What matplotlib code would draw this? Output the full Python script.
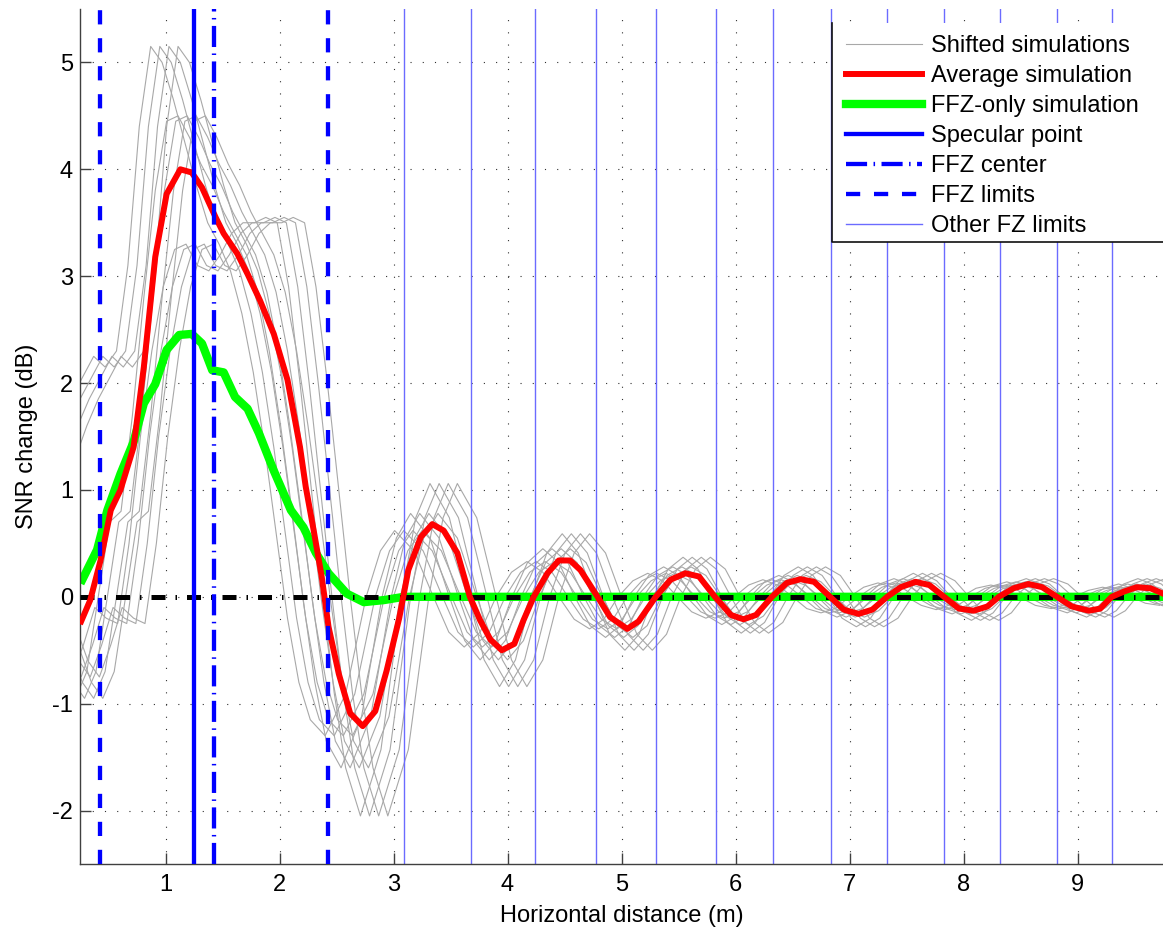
import matplotlib
matplotlib.use('Agg')
import matplotlib.pyplot as plt
from matplotlib.patches import Rectangle
from matplotlib.lines import Line2D
import numpy as np

plt.rcParams['font.family'] = ['Liberation Sans', 'DejaVu Sans']

# ---------------- data ----------------
red_x = [0.26, 0.34, 0.43, 0.52, 0.605, 0.72, 0.81, 0.91, 1.01, 1.13, 1.23, 1.32, 1.44, 1.51,
         1.63, 1.72, 1.83, 1.95, 2.07, 2.18, 2.23, 2.30, 2.37, 2.43, 2.52, 2.62, 2.73, 2.84,
         2.94, 3.05, 3.13, 3.24, 3.34, 3.44, 3.56, 3.67, 3.76, 3.85, 3.95, 4.06, 4.14, 4.23,
         4.35, 4.45, 4.55, 4.64, 4.79, 4.90, 5.05, 5.15, 5.30, 5.43, 5.56, 5.68, 5.82, 5.96,
         6.07, 6.18, 6.32, 6.45, 6.57, 6.69, 6.83, 6.95, 7.08, 7.20, 7.33, 7.45, 7.58, 7.70,
         7.83, 7.96, 8.09, 8.21, 8.31, 8.44, 8.57, 8.69, 8.82, 8.95, 9.10, 9.20, 9.30, 9.41,
         9.52, 9.64, 9.75]
red_y = [-0.23, -0.03, 0.34, 0.81, 1.0, 1.4, 2.15, 3.18, 3.77, 4.0, 3.97, 3.83, 3.55, 3.40,
         3.21, 3.02, 2.77, 2.46, 2.03, 1.40, 1.03, 0.62, 0.19, -0.28, -0.72, -1.09, -1.21, -1.07,
         -0.69, -0.2, 0.25, 0.56, 0.68, 0.62, 0.41, 0.0, -0.22, -0.40, -0.50, -0.44, -0.22, 0.0,
         0.22, 0.34, 0.34, 0.25, 0.0, -0.19, -0.30, -0.23, 0.0, 0.16, 0.22, 0.19, 0.0, -0.17,
         -0.21, -0.17, 0.0, 0.13, 0.165, 0.14, 0.0, -0.12, -0.16, -0.12, 0.0, 0.09, 0.14, 0.11,
         0.0, -0.11, -0.13, -0.09, 0.0, 0.08, 0.12, 0.09, 0.0, -0.09, -0.13, -0.11, 0.0, 0.05,
         0.09, 0.08, 0.03]

green_x = [0.27, 0.40, 0.49, 0.605, 0.72, 0.81, 0.91, 1.01, 1.12, 1.23, 1.32, 1.41, 1.51, 1.61,
           1.72, 1.82, 1.95, 2.10, 2.21, 2.32, 2.43, 2.59, 2.74, 2.92, 3.09, 9.75]
green_y = [0.16, 0.44, 0.81, 1.15, 1.45, 1.81, 1.99, 2.31, 2.45, 2.46, 2.37, 2.12, 2.10, 1.87,
           1.76, 1.53, 1.18, 0.81, 0.65, 0.41, 0.22, 0.03, -0.05, -0.03, 0.0, 0.0]

zero_line_x = [0.25, 9.75]
zero_line_y = [0.0, 0.0]

specular_x = 1.248
ffz_center_x = 1.427
ffz_limits_x = [0.427, 2.427]
other_fz_x = [3.09, 3.684, 4.24, 4.778, 5.301, 5.825, 6.327, 6.836, 7.333, 7.827,
              8.316, 8.816, 9.304]

# shifted simulations: three families of profiles, each drawn at several shifts
gray_x = [0.0, 0.1, 0.2, 0.3, 0.4, 0.5, 0.6, 0.7, 0.8, 0.9, 1.0, 1.1, 1.2, 1.3, 1.4, 1.5,
          1.6, 1.7, 1.8, 1.9, 2.0, 2.1, 2.2, 2.3, 2.4, 2.5, 2.6,
          2.73, 2.91, 3.09, 3.215, 3.34, 3.51, 3.68, 3.815, 3.95, 4.09, 4.23, 4.365, 4.50,
          4.64, 4.78, 4.915, 5.05, 5.175, 5.30, 5.43, 5.56, 5.69, 5.82, 5.945, 6.07, 6.195,
          6.32, 6.445, 6.57, 6.70, 6.83, 6.955, 7.08, 7.205, 7.33, 7.455, 7.58, 7.705, 7.83,
          7.96, 8.09, 8.20, 8.31, 8.44, 8.57, 8.695, 8.82, 8.96, 9.10, 9.20, 9.30, 9.425,
          9.55, 9.675, 9.80, 9.925, 10.05]
gray_E = [0.4, 0.7, 1.0, 1.3, 1.6, 1.85, 2.05, 2.25, 2.15, 2.3, 3.1, 4.4, 5.15, 5.0, 4.65,
          4.25, 3.85, 3.5, 3.3, 3.05, 2.65, 2.1, 1.4, 0.6, -0.2, -0.8, -1.15,
          -1.3, -0.91, 0, 0.43, 0.62, 0.43, 0, -0.33, -0.47, -0.33, 0, 0.23, 0.33, 0.23, 0,
          -0.21, -0.30, -0.21, 0, 0.15, 0.22, 0.15, 0, -0.14, -0.20, -0.14, 0, 0.11, 0.16,
          0.11, 0, -0.11, -0.15, -0.11, 0, 0.09, 0.13, 0.09, 0, -0.08, -0.12, -0.08, 0, 0.08,
          0.11, 0.08, 0, -0.08, -0.11, -0.08, 0, 0.06, 0.09, 0.06, 0, -0.06, -0.08]
gray_M = [0.0, -0.2, -0.5, -0.8, -0.95, -0.7, 0.0, 0.7, 0.8, 1.7, 2.8, 3.8, 4.45, 4.5, 4.3,
          4.05, 3.85, 3.6, 3.4, 3.2, 2.85, 2.3, 1.6, 0.8, -0.05, -0.8, -1.35,
          -1.6, -1.12, 0, 0.55, 0.78, 0.55, 0, -0.41, -0.59, -0.41, 0, 0.32, 0.45, 0.32, 0,
          -0.27, -0.38, -0.27, 0, 0.2, 0.28, 0.2, 0, -0.18, -0.26, -0.18, 0, 0.14, 0.20,
          0.14, 0, -0.13, -0.19, -0.13, 0, 0.12, 0.17, 0.12, 0, -0.11, -0.16, -0.11, 0, 0.1,
          0.14, 0.1, 0, -0.1, -0.15, -0.1, 0, 0.08, 0.12, 0.08, 0, -0.08, -0.11]
gray_L = [-0.3, -0.6, -0.75, -0.45, -0.1, -0.2, -0.25, 0.5, 1.5, 2.3, 2.9, 3.25, 3.3, 3.1,
          3.05, 3.2, 3.4, 3.5, 3.5, 3.55, 3.5, 2.9, 2.0, 1.0, 0.0, -0.9, -1.6,
          -2.05, -1.43, 0, 0.74, 1.06, 0.74, 0, -0.59, -0.84, -0.59, 0, 0.41, 0.59, 0.41, 0,
          -0.35, -0.5, -0.35, 0, 0.26, 0.37, 0.26, 0, -0.24, -0.34, -0.24, 0, 0.2, 0.28,
          0.2, 0, -0.2, -0.28, -0.2, 0, 0.15, 0.22, 0.15, 0, -0.15, -0.22, -0.15, 0, 0.12,
          0.17, 0.12, 0, -0.13, -0.19, -0.13, 0, 0.12, 0.17, 0.12, 0, -0.1, -0.15]
family_offsets = [-0.21, -0.07, 0.10]
sub_shifts = [-0.12, -0.04, 0.04, 0.12]

x_ticks = [1, 2, 3, 4, 5, 6, 7, 8, 9]
y_ticks = [-2, -1, 0, 1, 2, 3, 4, 5]

legend_labels = ['Shifted simulations', 'Average simulation', 'FFZ-only simulation',
                 'Specular point', 'FFZ center', 'FFZ limits', 'Other FZ limits']

# ---------------- figure ----------------
W, H = 1163, 931
fig = plt.figure(figsize=(W / 100, H / 100), dpi=100)
ax = fig.add_axes([80 / W, 1 - 864 / H, 1 - 80 / W, (864 - 9) / H])
ax.set_xlim(0.25, 9.75)
ax.set_ylim(-2.5, 5.5)

gray_col = '#a8a8a8'
gx = np.array(gray_x)
for fam, off in zip([gray_E, gray_M, gray_L], family_offsets):
    for s in sub_shifts:
        h_gray, = ax.plot(gx + off + s, fam, color=gray_col, lw=0.8, zorder=1)

for xv in other_fz_x:
    h_other = ax.axvline(xv, color='#6b6bff', lw=1.0, zorder=1.6)

h_green, = ax.plot(green_x, green_y, color=(0, 1, 0), lw=6.0, zorder=2)
ax.plot(zero_line_x, zero_line_y, color='k', lw=3.6, ls=(0, (2.8, 2.0, 0.3, 2.0)), zorder=3)
h_red, = ax.plot(red_x, red_y, color=(1, 0, 0), lw=4.3, zorder=4)

h_spec = ax.axvline(specular_x, color=(0, 0, 1), lw=3.1, zorder=5)
h_center = ax.axvline(ffz_center_x, color=(0, 0, 1), lw=3.1,
                      ls=(0, (4.9, 1.5, 0.35, 1.5)), zorder=5)
for xv in ffz_limits_x:
    h_lim = ax.axvline(xv, color=(0, 0, 1), lw=3.1, ls=(0, (3.3, 3.2)), zorder=5)

ax.set_xticks(x_ticks)
ax.set_yticks(y_ticks)
ax.set_xticklabels([str(v) for v in x_ticks])
ax.set_yticklabels([str(v) for v in y_ticks])
ax.grid(True, color='#303030', lw=0.8, ls=(0, (1, 10)))
ax.set_axisbelow(True)
for sp in ['top', 'right']:
    ax.spines[sp].set_visible(False)
for sp in ['left', 'bottom']:
    ax.spines[sp].set_color('#404040')
    ax.spines[sp].set_linewidth(1.0)
ax.tick_params(axis='both', direction='in', length=8, width=1, color='#404040',
               labelsize=17, labelcolor='black')
ax.tick_params(axis='x', pad=7)
ax.tick_params(axis='y', pad=5)
ax.set_xlabel('Horizontal distance (m)', fontsize=17, labelpad=7)
ax.set_ylabel('SNR change (dB)', fontsize=17, labelpad=10)

# legend box (white, only left and bottom border visible)
box = Rectangle((832 / W, 1 - 242 / H), (W + 20 - 832) / W, (242 - 23) / H,
                transform=fig.transFigure, facecolor='white', edgecolor='none',
                zorder=10, clip_on=False)
ax.add_patch(box)
border = Line2D([832 / W, 832 / W, 1.02], [1 - 23 / H, 1 - 242 / H, 1 - 242 / H],
                transform=fig.transFigure, color='#101010', lw=1.2, zorder=11, clip_on=False)
ax.add_line(border)

handles = [h_gray, h_red, h_green, h_spec, h_center, h_lim, h_other]
leg = ax.legend(handles, legend_labels, loc='upper left',
                bbox_to_anchor=(846 / W, 1 - 35 / H), bbox_transform=fig.transFigure,
                frameon=False, fontsize=17, handlelength=3.2, handletextpad=0.38,
                labelspacing=0.34, borderpad=0, borderaxespad=0)
leg.set_zorder(12)

fig.savefig('out.png', dpi=100)
